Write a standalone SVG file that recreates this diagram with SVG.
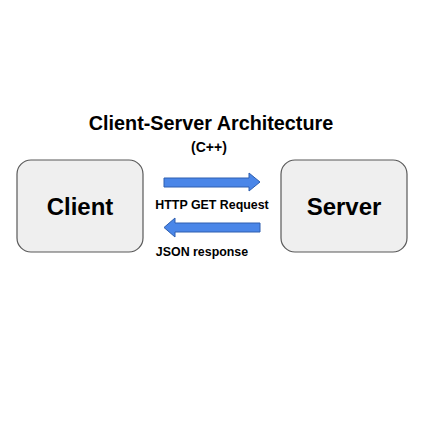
<svg xmlns="http://www.w3.org/2000/svg" width="438" height="438" viewBox="0 0 438 438">
<style>
.box{fill:#efefef;stroke:#595959;stroke-width:1.2}
.arr{fill:#4a86e8;stroke:#2e5fb0;stroke-width:1}
text{font-family:"Liberation Sans",Arial,sans-serif;font-weight:bold;fill:#000;text-anchor:middle}
</style>
<rect width="438" height="438" fill="#fff"/>
<text x="211" y="130" font-size="19.8">Client-Server Architecture</text>
<text x="209" y="152" font-size="14">(C++)</text>
<g id="client">
<rect class="box" x="17" y="160" width="126" height="92" rx="14"/>
<text x="80" y="215" font-size="24">Client</text>
</g>
<g id="server">
<rect class="box" x="281" y="160" width="126" height="92" rx="14"/>
<text x="344" y="215" font-size="24">Server</text>
</g>
<g id="connectors">
<polygon class="arr" points="164,178 249,178 249,173 260,182 249,191 249,187 164,187"/>
<polygon class="arr" points="260,223 175,223 175,218 164,227.5 175,237 175,232 260,232"/>
<text x="212" y="209" font-size="12.4">HTTP GET Request</text>
<text x="202" y="256" font-size="12.4">JSON response</text>
</g>
</svg>
